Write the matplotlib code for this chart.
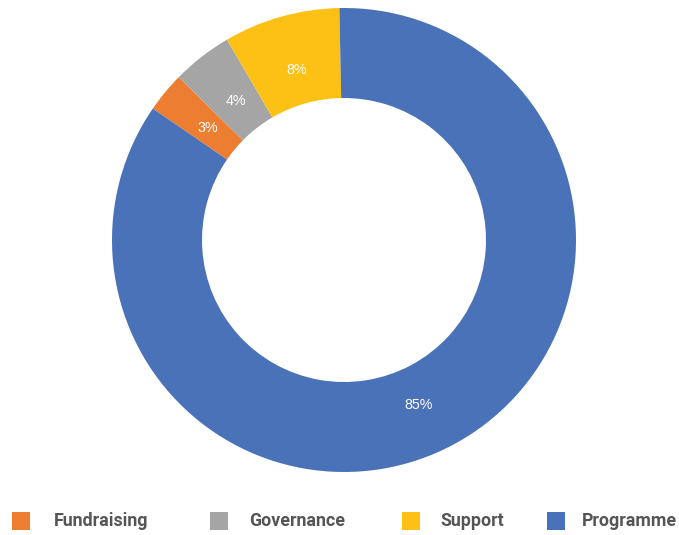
import matplotlib
matplotlib.use("Agg")
import matplotlib.pyplot as plt
import numpy as np
from matplotlib.patches import Rectangle

# Expenditure split by category
categories = ["Fundraising", "Governance", "Support", "Programme"]
shares = [2.8, 4.2, 8.1, 84.9]
colors = ["#ED7D31", "#A5A5A5", "#FDC014", "#4A72B8"]

W, H = 679, 535
fig = plt.figure(figsize=(W / 100, H / 100), dpi=100)

# donut centre and radius in pixels
cx, cy, r = 344, 240, 232
ax = fig.add_axes([(cx - r) / W, (H - cy - r) / H, 2 * r / W, 2 * r / H])

wedges, texts, autotexts = ax.pie(
    shares,
    colors=colors,
    startangle=145.5,
    counterclock=False,
    radius=1.0,
    autopct="%.0f%%",
    pctdistance=0.76,
    wedgeprops=dict(width=0.388, linewidth=0),
    textprops=dict(color="white", fontsize=10.3, family="Liberation Sans"),
)

# nudge the large slice's label a little along the ring
w = wedges[-1]
mid = np.deg2rad(0.5 * (w.theta1 + w.theta2) - 4)
autotexts[-1].set_position((0.78 * np.cos(mid), 0.78 * np.sin(mid)))

ax.set_xlim(-1, 1)
ax.set_ylim(-1, 1)
ax.set_aspect("equal")
ax.axis("off")

# legend row along the bottom: swatch left edges and label left edges (px)
swatch_x = [12, 210, 402, 547]
label_x = [54, 249, 440, 582]
row_y = 521
sw = 18
for name, col, sx, lx in zip(categories, colors, swatch_x, label_x):
    fig.patches.append(
        Rectangle((sx / W, (H - row_y - sw / 2) / H), sw / W, sw / H,
                  transform=fig.transFigure, facecolor=col, edgecolor="none")
    )
    fig.text(lx / W, (H - row_y) / H, name, ha="left", va="center",
             family="Roboto", weight="bold", fontsize=12.8, color="#555555")

fig.savefig("out.png", dpi=100)
